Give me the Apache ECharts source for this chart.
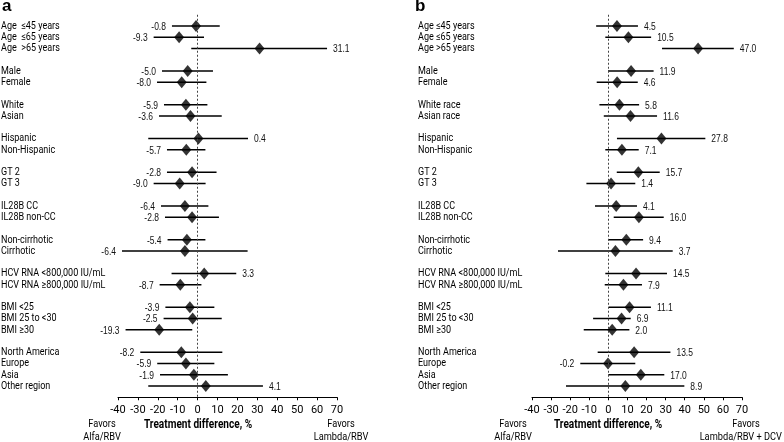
<!DOCTYPE html>
<html><head><meta charset="utf-8">
<script src="https://cdn.jsdelivr.net/npm/echarts@6/dist/echarts.min.js"></script>
<style>html,body{margin:0;padding:0;background:#fff}#c{width:784px;height:442px}</style>
</head><body><div id="c"></div>
<script>
// ---- data ----
const groupSizes = [3,2,2,2,2,2,2,2,3,4];
const catsA = ["Age  \u226445 years","Age  \u226465 years","Age  >65 years","Male","Female","White","Asian","Hispanic","Non-Hispanic","GT 2","GT 3","IL28B CC","IL28B non-CC","Non-cirrhotic","Cirrhotic","HCV RNA <800,000 IU/mL","HCV RNA \u2265800,000 IU/mL","BMI <25","BMI 25 to <30","BMI \u226530","North America","Europe","Asia","Other region"];
const catsB = ["Age \u226445 years","Age \u226465 years","Age >65 years","Male","Female","White race","Asian race","Hispanic","Non-Hispanic","GT 2","GT 3","IL28B CC","IL28B non-CC","Non-cirrhotic","Cirrhotic","HCV RNA <800,000 IU/mL","HCV RNA \u2265800,000 IU/mL","BMI <25","BMI 25 to <30","BMI \u226530","North America","Europe","Asia","Other region"];
const estA = [-0.8,-9.3,31.1,-5.0,-8.0,-5.9,-3.6,0.4,-5.7,-2.8,-9.0,-6.4,-2.8,-5.4,-6.4,3.3,-8.7,-3.9,-2.5,-19.3,-8.2,-5.9,-1.9,4.1];
const lowA = [-12.9,-22.1,-3.2,-17.9,-20.4,-16.9,-19.4,-24.8,-15.4,-15.4,-22.1,-18.4,-16.4,-15.1,-38.0,-13.1,-19.1,-16.2,-17.1,-36.2,-28.8,-20.3,-18.9,-24.8];
const highA = [11.1,3.2,65.0,7.7,4.4,4.9,12.1,25.3,3.9,9.5,4.0,5.4,10.7,3.9,25.1,19.4,1.9,8.4,12.1,-2.7,12.4,8.4,15.2,32.8];
const estB = [4.5,10.5,47.0,11.9,4.6,5.8,11.6,27.8,7.1,15.7,1.4,4.1,16.0,9.4,3.7,14.5,7.9,11.1,6.9,2.0,13.5,-0.2,17.0,8.9];
const lowB = [-6.4,-1.6,28.1,-0.2,-6.1,-4.7,-2.4,4.5,-1.6,4.4,-11.5,-7.0,2.8,-0.2,-26.4,-1.6,-1.9,0.2,-8.0,-12.9,-5.6,-14.7,0.0,-22.2];
const highB = [15.5,22.4,65.7,23.7,15.4,16.1,25.5,50.8,15.9,26.9,14.1,15.0,29.0,18.2,33.7,30.7,17.6,22.3,11.7,11.0,32.5,14.1,29.3,39.8];
const xTicks = {min:-40, max:70, interval:10};

// ---- build ----
const rows = [];
(function(){let r=0; groupSizes.forEach(g=>{for(let i=0;i<g;i++) rows.push(r++); r++;});})();
const lastRow = rows[rows.length-1];

const LABFONT = '11px Roboto, "Liberation Sans", sans-serif';
const NUMFONT = '10px "Liberation Sans", Arial, sans-serif';

function ciRender(params, api){
  const r = api.value(0), lo = api.value(1), hi = api.value(2), est = api.value(3);
  const p1 = api.coord([lo, r]), p2 = api.coord([hi, r]);
  const neg = est < 0;
  return {type:'group', children:[
    {type:'line', shape:{x1:p1[0],y1:p1[1],x2:p2[0],y2:p2[1]}, style:{stroke:'#000', lineWidth:1.6}},
    {type:'text', x: neg ? p1[0]-6 : p2[0]+6, y: p1[1]+1, scaleX:0.85,
      style:{text: est.toFixed(1), x:0, y:0, align: neg?'right':'left', verticalAlign:'middle', font: NUMFONT, fill:'#111'}}
  ]};
}

function panel(idx, cats, est, low, high, gridLeft, gridRight, labelOffset){
  const grid = {left:gridLeft, right:gridRight, top:14.75, bottom:44.75};
  const xAxis = {type:'value', gridIndex:idx, position:'bottom', min:xTicks.min, max:xTicks.max, interval:xTicks.interval,
    axisLine:{show:true, onZero:false, lineStyle:{color:'#000', width:1}},
    axisTick:{show:true, inside:false, length:3, lineStyle:{color:'#000'}},
    splitLine:{show:false},
    axisLabel:{color:'#000', fontSize:11, fontFamily:'Roboto, "Liberation Sans", sans-serif', margin:7}};
  const yAxis = {type:'value', gridIndex:idx, inverse:true, min:-1, max:lastRow+1, interval:1,
    axisLine:{show:false}, axisTick:{show:false}, splitLine:{show:false}, axisLabel:{show:false}};
  const ciData = est.map((e,i)=>[rows[i], low[i], high[i], e]);
  const ptData = est.map((e,i)=>[e, rows[i]]);
  const labData = cats.map((c,i)=>[xTicks.min, rows[i]]);
  const series = [
    {type:'custom', xAxisIndex:idx, yAxisIndex:idx, data:labData, clip:false, silent:true,
      renderItem:(params, api) => {
        const p = api.coord([api.value(0), api.value(1)]);
        return {type:'text', x: p[0]-labelOffset, y: p[1], scaleX:0.82,
          style:{text: cats[params.dataIndex], x:0, y:0, align:'left', verticalAlign:'middle', font:LABFONT, fill:'#000'}};
      }},
    {type:'custom', xAxisIndex:idx, yAxisIndex:idx, renderItem:ciRender, data:ciData,
      encode:{x:[1,2], y:0}, z:2, silent:true, clip:false,
      markLine:{silent:true, symbol:'none', label:{show:false}, lineStyle:{color:'#444', type:[2,2], width:1},
        data:[{xAxis:0}]}},
    {type:'scatter', xAxisIndex:idx, yAxisIndex:idx, data:ptData, symbol:'diamond', symbolSize:[10,12],
      itemStyle:{color:'#000'}, z:3, silent:true}
  ];
  return {grid, xAxis, yAxis, series};
}

const pa = panel(0, catsA, estA, lowA, highA, 118, 447, 117);
const pb = panel(1, catsB, estB, lowB, highB, 532, 42, 114);

const chart = echarts.init(document.getElementById('c'));
const SMALL = '11px Roboto, "Liberation Sans", sans-serif';
const BOLD = 'bold 12px Roboto, "Liberation Sans", sans-serif';
const t = (text, x, y, font, align) => ({type:'text', x, y, scaleX:0.84,
  style:{text, x:0, y:0, align, verticalAlign:'middle', font, fill:'#000'}});
chart.setOption({
  animation:false,
  grid:[pa.grid, pb.grid], xAxis:[pa.xAxis, pb.xAxis], yAxis:[pa.yAxis, pb.yAxis],
  series:[...pa.series, ...pb.series],
  graphic:[
    {type:'text', left:2, top:-2, style:{text:'a', font:'bold 17px Arial, "Liberation Sans", sans-serif', fill:'#000'}},
    {type:'text', left:415, top:-2, style:{text:'b', font:'bold 17px Arial, "Liberation Sans", sans-serif', fill:'#000'}},
    t('Treatment difference, %', 198, 425, BOLD, 'center'),
    t('Treatment difference, %', 608, 425, BOLD, 'center'),
    t('Favors', 102, 424, SMALL, 'center'),
    t('Alfa/RBV', 102, 437, SMALL, 'center'),
    t('Favors', 341, 424, SMALL, 'center'),
    t('Lambda/RBV', 341, 437, SMALL, 'center'),
    t('Favors', 746, 424, SMALL, 'center'),
    t('Favors', 513, 424, SMALL, 'center'),
    t('Alfa/RBV', 513, 437, SMALL, 'center'),
    t('Lambda/RBV + DCV', 782, 437, SMALL, 'right')
  ]
});
</script></body></html>
